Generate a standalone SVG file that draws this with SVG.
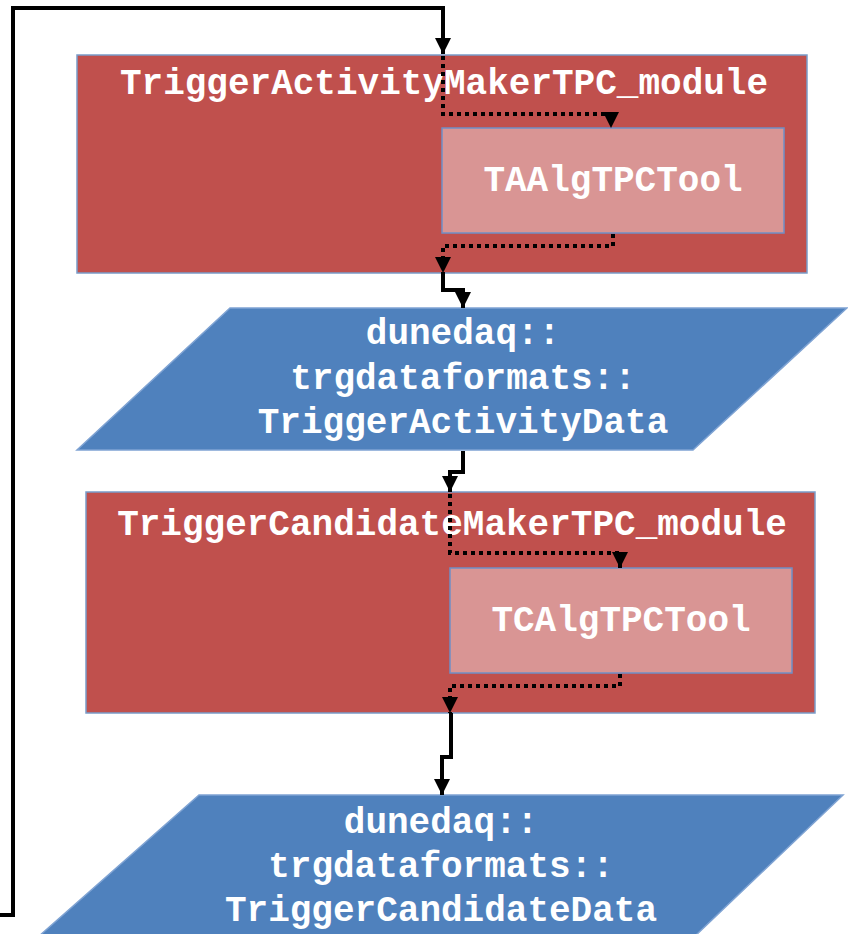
<svg xmlns="http://www.w3.org/2000/svg" width="848" height="934" viewBox="0 0 848 934">
<style>
.mod{fill:#C0504D;stroke:#7A9CC9;stroke-width:1.5}
.tool{fill:#D99594;stroke:#6F8FC6;stroke-width:1.5}
.data{fill:#4F81BD;stroke:#7FA3D3;stroke-width:1.5}
.t{font-family:"Liberation Mono","Courier New",monospace;font-weight:bold;font-size:36px;fill:#FFFFFF;text-anchor:middle}
.solid{fill:none;stroke:#000;stroke-width:4;stroke-linejoin:miter}
.dot{fill:none;stroke:#000;stroke-width:4;stroke-dasharray:4 4}
</style>
<defs>
<marker id="ah" markerUnits="userSpaceOnUse" markerWidth="18" markerHeight="18" refX="16" refY="8.5" orient="auto">
<path d="M0,0.5 L16,8.5 L0,16.5 z" fill="#000"/>
</marker>
</defs>
<g id="module1">
<rect class="mod" x="77" y="55" width="730" height="218"/>
<text class="t" x="444" y="94">TriggerActivityMakerTPC_module</text>
</g>
<g id="tool1">
<rect class="tool" x="442" y="128" width="342" height="105"/>
<text class="t" x="613" y="191">TAAlgTPCTool</text>
</g>
<g id="data1">
<polygon class="data" points="230,308 847,308 693,450 77,450"/>
<text class="t" x="463" y="344">dunedaq::</text>
<text class="t" x="463" y="389">trgdataformats::</text>
<text class="t" x="463" y="433">TriggerActivityData</text>
</g>
<g id="module2">
<rect class="mod" x="86" y="492" width="729" height="221"/>
<text class="t" x="452" y="535">TriggerCandidateMakerTPC_module</text>
</g>
<g id="tool2">
<rect class="tool" x="450" y="568" width="342" height="105"/>
<text class="t" x="621" y="631">TCAlgTPCTool</text>
</g>
<g id="data2">
<polygon class="data" points="199,795 843,795 694,937 38,937"/>
<text class="t" x="441" y="833">dunedaq::</text>
<text class="t" x="441" y="877">trgdataformats::</text>
<text class="t" x="441" y="921">TriggerCandidateData</text>
</g>
<g id="connectors">
<path class="solid" d="M0,915 H13 V8 H443 V54" marker-end="url(#ah)"/>
<path class="dot" d="M443,56 V114 H611 V128" marker-end="url(#ah)"/>
<path class="dot" d="M613,234 V246 H443 V273" marker-end="url(#ah)"/>
<path class="solid" d="M443,273 V290 H463 V308" marker-end="url(#ah)"/>
<path class="solid" d="M463,451 V472 H450 V492" marker-end="url(#ah)"/>
<path class="dot" d="M450,494 V553 H620 V568" marker-end="url(#ah)"/>
<path class="dot" d="M620,674 V686 H450 V713" marker-end="url(#ah)"/>
<path class="solid" d="M451,713 V757 H442 V795" marker-end="url(#ah)"/>
</g>
</svg>
